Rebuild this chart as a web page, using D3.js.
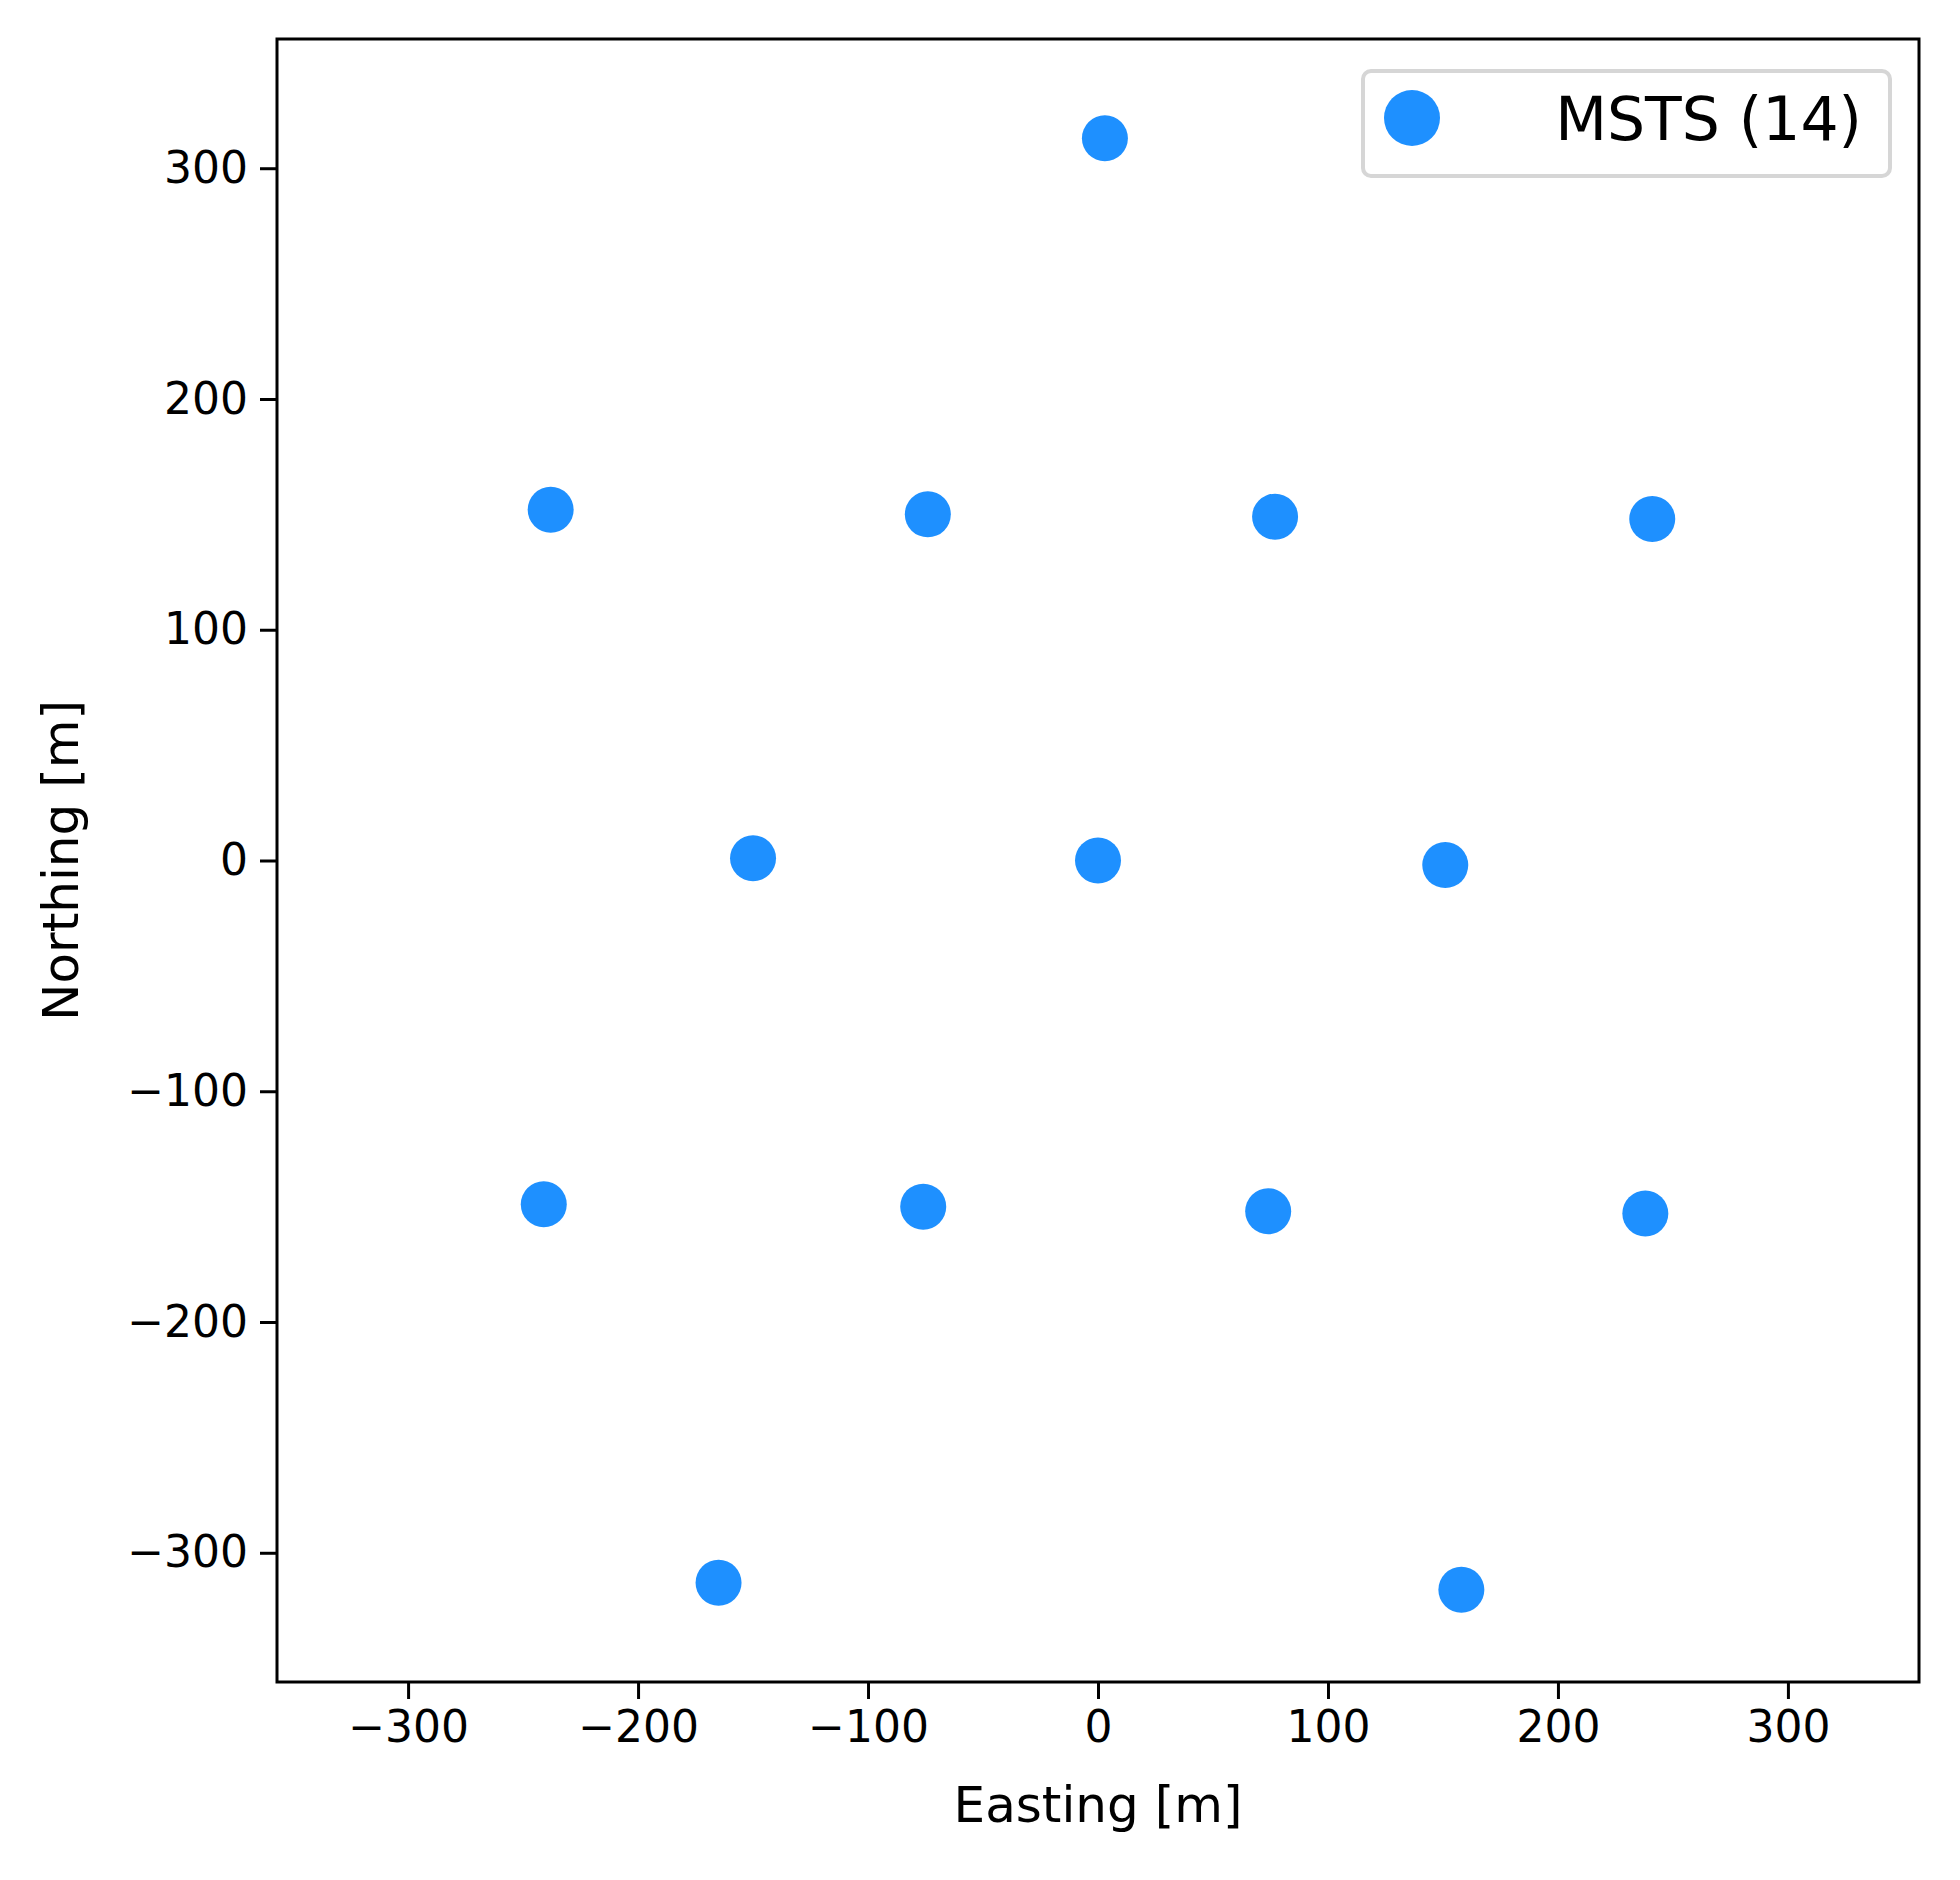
<!DOCTYPE html>
<html><head><meta charset="utf-8">
<script src="https://cdn.jsdelivr.net/npm/d3@7"></script>
<style>body{margin:0;background:#fff}text{font-family:"DejaVu Sans",sans-serif}</style>
</head><body><svg id="chart" width="1960" height="1880"></svg>
<script>
const easting = [3, -238, -74, 77, 241, -150, 0, 151, -241, -76, 74, 238, -165, 158];
const northing = [313, 152, 150, 149, 148, 1, 0, -2, -149, -150, -152, -153, -313, -316];
const ticks = [-300, -200, -100, 0, 100, 200, 300];
const seriesName = "MSTS (14)";

const m = {left: 277, right: 1919, top: 39, bottom: 1682};
const svg = d3.select("#chart");
const x = d3.scaleLinear().domain([-357, 357]).range([m.left, m.right]);
const y = d3.scaleLinear().domain([-356, 356]).range([m.bottom, m.top]);
const fmt = d => d < 0 ? "\u2212" + Math.abs(d) : d;

const gx = svg.append("g").attr("transform", `translate(0,${m.bottom})`)
  .call(d3.axisBottom(x).tickValues(ticks).tickFormat(fmt).tickSize(17).tickPadding(12));
const gy = svg.append("g").attr("transform", `translate(${m.left},0)`)
  .call(d3.axisLeft(y).tickValues(ticks).tickFormat(fmt).tickSize(17).tickPadding(12));
[gx, gy].forEach(g => {
  g.select(".domain").remove();
  g.selectAll("line").attr("stroke", "#000").attr("stroke-width", 3);
  g.selectAll("text").attr("font-size", 44).attr("fill", "#000").style("font-family", "DejaVu Sans");
});

svg.append("rect").attr("x", m.left).attr("y", m.top)
  .attr("width", m.right - m.left).attr("height", m.bottom - m.top)
  .attr("fill", "none").attr("stroke", "#000").attr("stroke-width", 3);

svg.selectAll(".dot").data(easting.map((e, i) => [e, northing[i]])).enter()
  .append("circle").attr("cx", d => x(d[0])).attr("cy", d => y(d[1]))
  .attr("r", 23).attr("fill", "#1E90FF");

svg.append("text").attr("x", (m.left + m.right) / 2).attr("y", 1822)
  .attr("text-anchor", "middle").attr("font-size", 50).text("Easting [m]");
svg.append("text").attr("transform", `translate(78,${(m.top + m.bottom) / 2}) rotate(-90)`)
  .attr("text-anchor", "middle").attr("font-size", 50).text("Northing [m]");

const lg = svg.append("g");
lg.append("rect").attr("x", 1363).attr("y", 71).attr("width", 527).attr("height", 105)
  .attr("rx", 8).attr("fill", "#fff").attr("stroke", "#d6d6d6").attr("stroke-width", 4);
lg.append("circle").attr("cx", 1412).attr("cy", 118).attr("r", 28).attr("fill", "#1E90FF");
lg.append("text").attr("x", 1862).attr("y", 140).attr("text-anchor", "end")
  .attr("font-size", 60).text(seriesName);
</script></body></html>
